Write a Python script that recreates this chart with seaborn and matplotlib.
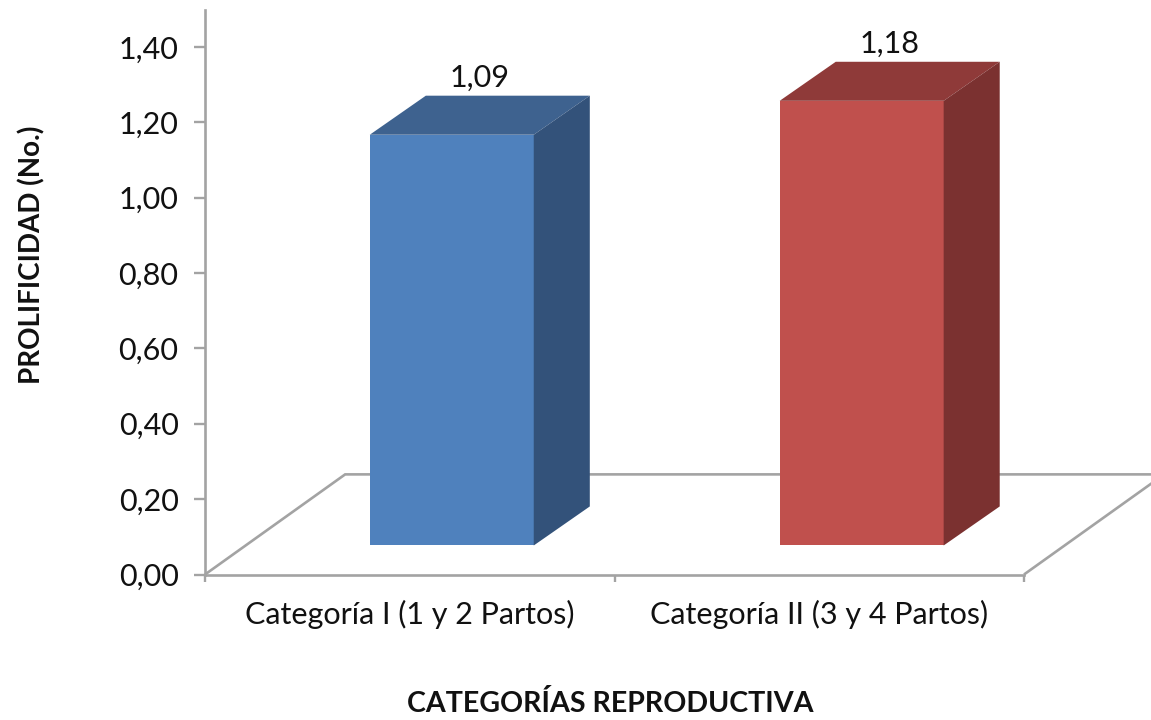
import matplotlib
matplotlib.use("Agg")
import matplotlib.pyplot as plt
from matplotlib.patches import Polygon
import seaborn as sns
import pandas as pd

# ---- data ----
categories = ["Categoría I (1 y 2 Partos)", "Categoría II (3 y 4 Partos)"]
values = [1.09, 1.18]
value_labels = ["1,09", "1,18"]
y_ticks = [0.0, 0.2, 0.4, 0.6, 0.8, 1.0, 1.2, 1.4]
y_tick_labels = ["0,00", "0,20", "0,40", "0,60", "0,80", "1,00", "1,20", "1,40"]
x_label = "CATEGORÍAS REPRODUCTIVA"
y_label = "PROLIFICIDAD (No.)"

# ---- style ----
front_colors = ["#4F81BD", "#C0504D"]
top_colors = ["#3E628F", "#8F3A39"]
side_colors = ["#33527A", "#7B3130"]
GREY = "#A3A3A3"
W, H = 1151, 720
FONT = "Lato"

sns.set_theme(style="white")
plt.rcParams["font.family"] = [FONT, "DejaVu Sans"]

fig = plt.figure(figsize=(W / 100, H / 100), dpi=100, facecolor="white")
ax = fig.add_axes([205 / W, 1 - 574.5 / H, (1024 - 205) / W, (574.5 - 10) / H])

df = pd.DataFrame({"cat": categories, "val": values})
floor_offset = 0.077
sns.barplot(data=df, x="cat", y="val", hue="cat", palette=front_colors, legend=False,
            width=0.4, gap=0, bottom=floor_offset, saturation=1, ax=ax, zorder=4,
            linewidth=0, errorbar=None)

ax.set_xlim(-0.602, 1.396)
ax.set_ylim(0, 1.498)

# 3-D depth of bars and floor, in data units
bar_dx, bar_dy = 56 / 409.5, 39 / 376.4
floor_dx, floor_dy = 140 / 409.5, 100 / 376.4

x0, x1 = ax.get_xlim()
floor = Polygon([(x0, 0), (x0 + floor_dx, floor_dy), (x1 + floor_dx, floor_dy), (x1, 0)],
                closed=False, fill=False, edgecolor=GREY, linewidth=1.9,
                clip_on=False, zorder=1, joinstyle="miter")
ax.add_patch(floor)

for i, patch in enumerate(ax.patches[:len(values)]):
    l, b = patch.get_x(), patch.get_y()
    r, t = l + patch.get_width(), b + patch.get_height()
    ax.add_patch(Polygon([(l, t), (l + bar_dx, t + bar_dy), (r + bar_dx, t + bar_dy), (r, t)],
                         facecolor=top_colors[i], edgecolor="none", zorder=5, clip_on=False))
    ax.add_patch(Polygon([(r, b), (r + bar_dx, b + bar_dy), (r + bar_dx, t + bar_dy), (r, t)],
                         facecolor=side_colors[i], edgecolor="none", zorder=5, clip_on=False))
    ax.text((l + r) / 2 + bar_dx / 2, t + bar_dy + 0.010, value_labels[i], ha="center",
            va="bottom", fontsize=22, color="#111111", zorder=6)

# axes
sns.despine(ax=ax)
for s in ("left", "bottom"):
    ax.spines[s].set_color(GREY)
    ax.spines[s].set_linewidth(1.9)

ax.set_yticks(y_ticks, y_tick_labels)
ax.tick_params(axis="y", length=8, width=1.7, color=GREY, pad=11, labelsize=22, labelcolor="#111111", left=True)
major = [x0, (x0 + x1) / 2, x1]
ax.set_xticks(major, ["", "", ""])
ax.tick_params(axis="x", which="major", length=5, width=1.7, color=GREY, bottom=True)
ax.set_xticks([(major[0] + major[1]) / 2, (major[1] + major[2]) / 2], categories, minor=True)
ax.tick_params(axis="x", which="minor", length=0, pad=18, labelsize=22, labelcolor="#111111")

ax.set_xlabel(x_label, fontsize=20.6, fontweight="bold", color="#111111")
ax.set_ylabel(y_label, fontsize=20, fontweight="bold", color="#111111")
ax.xaxis.set_label_coords((610 - 205) / (1024 - 205), -(703 - 574.5) / (574.5 - 10), transform=ax.transAxes)
ax.yaxis.set_label_coords((32 - 205) / (1024 - 205), (574.5 - 255) / (574.5 - 10), transform=ax.transAxes)
ax.xaxis.label.set_va("center")
ax.yaxis.label.set_va("center")

fig.savefig("out.png", dpi=100, facecolor="white")
